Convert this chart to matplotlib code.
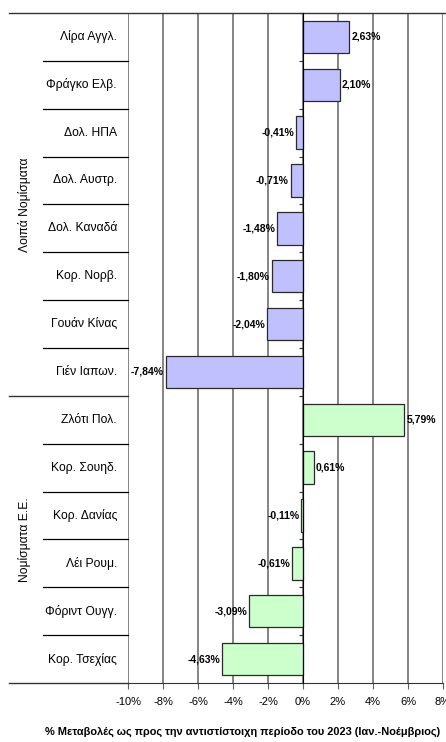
import numpy as np
import matplotlib
matplotlib.use("Agg")
from matplotlib import pyplot as plt
from matplotlib.transforms import blended_transform_factory

plt.rcParams['font.family'] = ['Liberation Sans', 'DejaVu Sans']

# data, top to bottom
currencies = ['Λίρα Αγγλ.', 'Φράγκο Ελβ.', 'Δολ. ΗΠΑ', 'Δολ. Αυστρ.', 'Δολ. Καναδά',
              'Κορ. Νορβ.', 'Γουάν Κίνας', 'Γιέν Ιαπων.',
              'Ζλότι Πολ.', 'Κορ. Σουηδ.', 'Κορ. Δανίας', 'Λέι Ρουμ.', 'Φόριντ Ουγγ.', 'Κορ. Τσεχίας']
changes = [2.63, 2.10, -0.41, -0.71, -1.48, -1.80, -2.04, -7.84,
           5.79, 0.61, -0.11, -0.61, -3.09, -4.63]
groups = ['Λοιπά Νομίσματα', 'Νομίσματα Ε.Ε.']
group_sizes = [8, 6]
group_colors = ['#C0C0FF', '#CCFFCC']
xticks = [-10, -8, -6, -4, -2, 0, 2, 4, 6, 8]
xlabel = '% Μεταβολές ως προς την αντιστίστοιχη περίοδο του 2023 (Ιαν.-Νοέμβριος)'

n = len(currencies)
y = np.arange(n)
colors = []
for c, s in zip(group_colors, group_sizes):
    colors += [c] * s

fig = plt.figure(figsize=(4.46, 7.42), dpi=100)
L, R, T, B = 128 / 446, 443 / 446, 1 - 13 / 742, 1 - 683 / 742
ax = fig.add_axes([L, B, R - L, T - B])

ax.set_xlim(-10, 8)
ax.set_ylim(n - 0.5, -0.5)

# vertical gridlines
ax.set_xticks(xticks)
ax.grid(axis='x', color='#707070', lw=1.2, zorder=0)
ax.set_axisbelow(True)

ax.barh(y, changes, height=0.68, color=colors, edgecolor='#2a2a2a', lw=0.9, zorder=2)

for yi, v in zip(y, changes):
    txt = f'{v:.2f}%'.replace('.', ',')
    if v >= 0:
        ax.text(v + 0.12, yi, txt, ha='left', va='center', fontsize=7.5, fontweight='bold', zorder=3)
    else:
        ax.text(v - 0.1, yi, txt, ha='right', va='center', fontsize=7.5, fontweight='bold', zorder=3)

# spines: the left one sits on 0%
for s in ['top', 'right']:
    ax.spines[s].set_visible(False)
ax.spines['left'].set_position(('data', 0))
ax.spines['left'].set_color('black')
ax.spines['left'].set_zorder(4)
ax.spines['bottom'].set_color('#333333')
ax.set_yticks(np.arange(n + 1) - 0.5)
ax.set_yticklabels([])
ax.tick_params(axis='y', length=3, direction='out', color='#333333')
ax.tick_params(axis='x', length=4, direction='out', color='#606060', labelsize=8, pad=6)
ax.set_xticklabels([f'{t}%' for t in xticks])

tr = blended_transform_factory(ax.transAxes, ax.transData)
for yi, name in zip(y, currencies):
    ax.text(-0.035, yi, name, transform=tr, ha='right', va='center', fontsize=8.7)

# lines in the label area
x_far = (9 - 128) / 315
x_near = (43 - 128) / 315
ax.plot([x_far, 1.01], [-0.5, -0.5], transform=tr, color='#333333', lw=1, clip_on=False)
ax.plot([x_far, 0], [n - 0.5, n - 0.5], transform=tr, color='#333333', lw=1, clip_on=False)
start = 0
for gi, s in enumerate(group_sizes):
    for k in range(start + 1, start + s):
        ax.plot([x_near, 0], [k - 0.5, k - 0.5], transform=tr, color='black', lw=0.9, clip_on=False)
    if gi > 0:
        ax.plot([x_far, 0], [start - 0.5, start - 0.5], transform=tr, color='#333333', lw=1, clip_on=False)
    ax.text((24 - 128) / 315, start + (s - 1) / 2, groups[gi], transform=tr, rotation=90,
            ha='center', va='center', fontsize=8.7)
    start += s

fig.text(243 / 446, 1 - 732 / 742, xlabel, ha='center', va='center',
         fontsize=7.9, fontweight='bold')

fig.savefig('out.png', dpi=100)
